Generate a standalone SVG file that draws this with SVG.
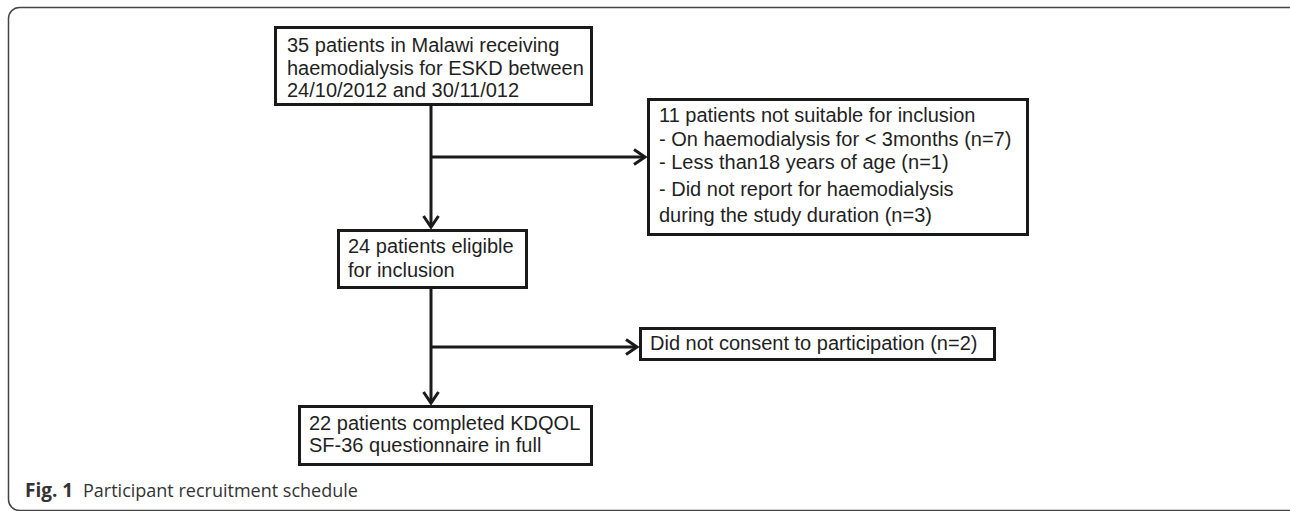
<svg xmlns="http://www.w3.org/2000/svg" width="1290" height="511" viewBox="0 0 1290 511">
  <style>
    .box { fill: #ffffff; stroke: #1a1a1a; stroke-width: 3; }
    .t { font-family: "Liberation Sans", Arial, sans-serif; font-size: 20px; fill: #1f1f1f; }
    .conn { stroke: #1a1a1a; stroke-width: 3; fill: none; }
    .cap { font-family: "Open Sans", "Noto Sans", sans-serif; font-size: 18px; fill: #333333; }
  </style>
  <defs>
    <marker id="arr" viewBox="0 0 16 18" markerWidth="16" markerHeight="18" refX="12" refY="9" orient="auto" markerUnits="userSpaceOnUse" overflow="visible">
      <path d="M1,1.5 L12,9 L1,16.5" fill="none" stroke="#1a1a1a" stroke-width="3"/>
    </marker>
  </defs>
  <rect x="8.5" y="7.5" width="1292" height="503" rx="11" ry="11" fill="#ffffff" stroke="#444444" stroke-width="1.5"/>

  <g id="connectors">
    <line class="conn" x1="431" y1="106" x2="431" y2="227" marker-end="url(#arr)"/>
    <line class="conn" x1="431" y1="157" x2="645" y2="157" marker-end="url(#arr)"/>
    <line class="conn" x1="431" y1="289" x2="431" y2="403" marker-end="url(#arr)"/>
    <line class="conn" x1="431" y1="347" x2="637" y2="347" marker-end="url(#arr)"/>
  </g>

  <g id="node-start">
    <rect class="box" x="275.5" y="27.5" width="316" height="77"/>
    <text class="t" x="287" y="52">35 patients in Malawi receiving</text>
    <text class="t" x="287" y="75">haemodialysis for ESKD between</text>
    <text class="t" x="287" y="97">24/10/2012 and 30/11/012</text>
  </g>

  <g id="node-excluded">
    <rect class="box" x="648.5" y="99.5" width="379" height="135"/>
    <text class="t" x="659" y="122">11 patients not suitable for inclusion</text>
    <text class="t" x="659" y="146">- On haemodialysis for &lt; 3months (n=7)</text>
    <text class="t" x="659" y="169">- Less than18 years of age (n=1)</text>
    <text class="t" x="659" y="196">- Did not report for haemodialysis</text>
    <text class="t" x="659" y="222">during the study duration (n=3)</text>
  </g>

  <g id="node-eligible">
    <rect class="box" x="338.5" y="230.5" width="188" height="57"/>
    <text class="t" x="348" y="253">24 patients eligible</text>
    <text class="t" x="348" y="277">for inclusion</text>
  </g>

  <g id="node-noconsent">
    <rect class="box" x="640.5" y="328.5" width="354" height="31"/>
    <text class="t" x="650" y="350">Did not consent to participation (n=2)</text>
  </g>

  <g id="node-completed">
    <rect class="box" x="299.5" y="406.5" width="292" height="58"/>
    <text class="t" x="309" y="430">22 patients completed KDQOL</text>
    <text class="t" x="309" y="452">SF-36 questionnaire in full</text>
  </g>

  <text class="cap" x="25" y="497"><tspan font-weight="bold" font-size="19">Fig. 1</tspan><tspan x="83">Participant recruitment schedule</tspan></text>
</svg>
